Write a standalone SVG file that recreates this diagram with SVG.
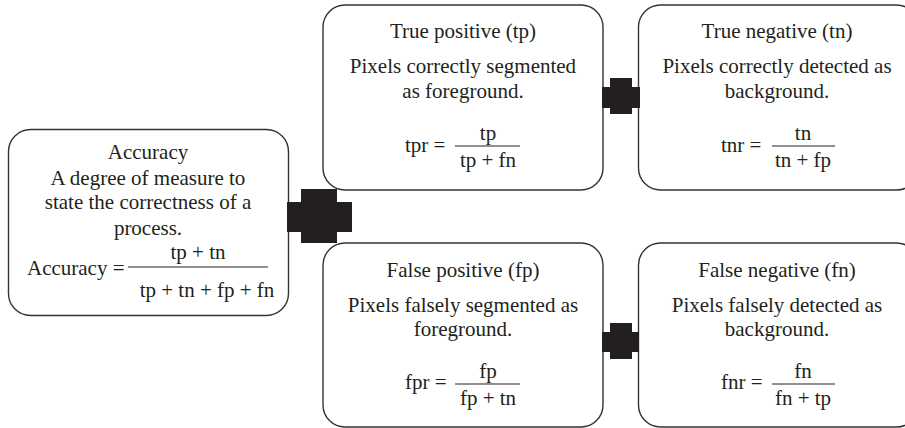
<svg xmlns="http://www.w3.org/2000/svg" width="905" height="428" viewBox="0 0 905 428" font-family="'Liberation Serif','Times New Roman',serif">
<style>
.box{fill:#fff;stroke:#333;stroke-width:1.4}
text{font-family:'Liberation Serif','Times New Roman',serif;font-size:21px;fill:#231f20;text-anchor:middle}
.l{text-anchor:start}
.fr{stroke:#231f20;stroke-width:1.2}
.cross{fill:#231f20}
</style>
<rect width="905" height="428" fill="#fff"/>
<g id="accuracy">
<rect class="box" x="8.5" y="129.5" width="280" height="186" rx="22"/>
<text x="148" y="159">Accuracy</text>
<text x="148" y="185">A degree of measure to</text>
<text x="148" y="209">state the correctness of a</text>
<text x="148" y="235">process.</text>
<text x="27" y="275" class="l">Accuracy =</text>
<text x="198" y="259">tp + tn</text>
<line class="fr" x1="128" y1="267" x2="268" y2="267"/>
<text x="207" y="297">tp + tn + fp + fn</text>
</g>
<g id="tp">
<rect class="box" x="323" y="5" width="280" height="185" rx="22"/>
<text x="463" y="38">True positive (tp)</text>
<text x="463" y="73">Pixels correctly segmented</text>
<text x="463" y="98">as foreground.</text>
<text x="405" y="152" class="l">tpr =</text>
<text x="488" y="140">tp</text>
<line class="fr" x1="455" y1="146" x2="520" y2="146"/>
<text x="488" y="167">tp + fn</text>
</g>
<g id="fp">
<rect class="box" x="323" y="243" width="280" height="184" rx="22"/>
<text x="463" y="277">False positive (fp)</text>
<text x="463" y="312">Pixels falsely segmented as</text>
<text x="463" y="336">foreground.</text>
<text x="405" y="389" class="l">fpr =</text>
<text x="488" y="378">fp</text>
<line class="fr" x1="455" y1="384" x2="520" y2="384"/>
<text x="488" y="405">fp + tn</text>
</g>
<g id="tn">
<rect class="box" x="638.5" y="5" width="280" height="185" rx="22"/>
<text x="777" y="38">True negative (tn)</text>
<text x="777" y="73">Pixels correctly detected as</text>
<text x="777" y="98">background.</text>
<text x="721" y="152" class="l">tnr =</text>
<text x="803" y="140">tn</text>
<line class="fr" x1="772" y1="146" x2="835" y2="146"/>
<text x="803" y="167">tn + fp</text>
</g>
<g id="fn">
<rect class="box" x="638.5" y="243" width="280" height="184" rx="22"/>
<text x="777" y="277">False negative (fn)</text>
<text x="777" y="312">Pixels falsely detected as</text>
<text x="777" y="336">background.</text>
<text x="721" y="389" class="l">fnr =</text>
<text x="803" y="378">fn</text>
<line class="fr" x1="772" y1="384" x2="835" y2="384"/>
<text x="803" y="405">fn + tp</text>
</g>
<g id="connectors">
<polygon class="cross" points="301,189 337,189 337,202 352,202 352,232 337,232 337,243 301,243 301,232 287,232 287,202 301,202"/>
<polygon class="cross" points="610,78 632,78 632,87 640,87 640,108 632,108 632,114 610,114 610,108 602,108 602,87 610,87"/>
<polygon class="cross" points="610,323 632,323 632,332 639,332 639,352 632,352 632,359 610,359 610,352 602,352 602,332 610,332"/>
</g>
</svg>
